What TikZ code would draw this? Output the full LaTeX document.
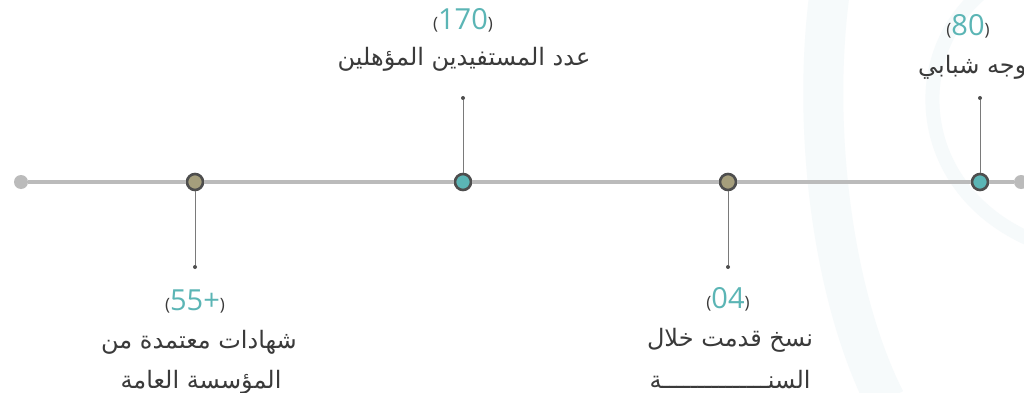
\documentclass[tikz,border=0pt]{standalone}
\usepackage{fontspec}
\setmainfont{Open Sans}
\newfontfamily\arabicfont[Script=Arabic]{DejaVu Sans}
\TeXXeTstate=1
\definecolor{linegray}{HTML}{BBBBBB}
\definecolor{olive}{HTML}{A59E7C}
\definecolor{tealc}{HTML}{5BB5B5}
\definecolor{ringc}{HTML}{4E4E4E}
\definecolor{stemc}{HTML}{7A7A7A}
\definecolor{txt}{HTML}{3A3A3A}
\definecolor{faint}{HTML}{F6FAFB}
\newcommand{\lpar}{{\fontsize{17}{20}\selectfont\color{txt}(}}
\newcommand{\rpar}{{\fontsize{17}{20}\selectfont\color{txt})}}
\begin{document}
\begin{tikzpicture}[x=1pt,y=-1pt,
  dotnode/.style={circle,draw=ringc,line width=2.6pt,minimum size=16pt,inner sep=0pt},
  endnode/.style={circle,fill=linegray,minimum size=14pt,inner sep=0pt},
  tipnode/.style={circle,fill=ringc,minimum size=4pt,inner sep=0pt},
  numtext/.style={inner sep=0pt,anchor=base,font=\fontsize{29}{32}\selectfont,text=tealc},
  artext/.style={inner sep=0pt,anchor=base,font=\arabicfont\fontsize{24}{28}\selectfont,text=txt},
  stem/.style={draw=stemc,line width=0.9pt}]
\useasboundingbox (0,0) rectangle (1024,393);
\clip (0,0) rectangle (1024,393);
\fill[white] (0,0) rectangle (1024,393);
% faint background arcs
\draw[faint,line width=40pt] (830,-10) .. controls (812,120) and (830,290) .. (885,400);
\draw[faint,line width=14pt] (1060,-40) .. controls (900,-20) and (880,200) .. (1060,250);
% timeline
\node[endnode] (e1) at (21,182) {};
\node[endnode] (e2) at (1021,182) {};
\node[dotnode,fill=olive] (n1) at (195,182) {};
\node[dotnode,fill=tealc] (n2) at (463,182) {};
\node[dotnode,fill=olive] (n3) at (728,182) {};
\node[dotnode,fill=tealc] (n4) at (980,182) {};
\draw[linegray,line width=4pt] (e1) -- (n1) -- (n2) -- (n3) -- (n4) -- (e2);
% stems
\node[tipnode] (t1) at (195,267) {};
\node[tipnode] (t2) at (463,98) {};
\node[tipnode] (t3) at (728,267) {};
\node[tipnode] (t4) at (980,98) {};
\draw[stem] (n1) -- (t1);
\draw[stem] (n2) -- (t2);
\draw[stem] (n3) -- (t3);
\draw[stem] (n4) -- (t4);
% texts
\node[numtext] (v2) at (463,30) {\lpar\hbox{170}\rpar};
\node[artext] (l2) at (464,66) {\beginR عدد المستفيدين المؤهلين\endR};
\node[numtext] (v4) at (968,36) {\lpar\hbox{80}\rpar};
\node[artext] (l4) at (976,74) {\beginR توجه شبابي\endR};
\node[numtext] (v1) at (195,310) {\lpar\hbox{55}\hbox{+}\rpar};
\node[artext] (l1a) at (199,348) {\beginR شهادات معتمدة من\endR};
\node[artext] (l1b) at (201,388) {\beginR المؤسسة العامة\endR};
\node[numtext] (v3) at (728,308) {\lpar\hbox{04}\rpar};
\node[artext] (l3a) at (730,346) {\beginR نسخ قدمت خلال\endR};
\node[artext] (l3b) at (730,388) {\beginR السنـــــــــــــــة\endR};
\end{tikzpicture}
\end{document}
